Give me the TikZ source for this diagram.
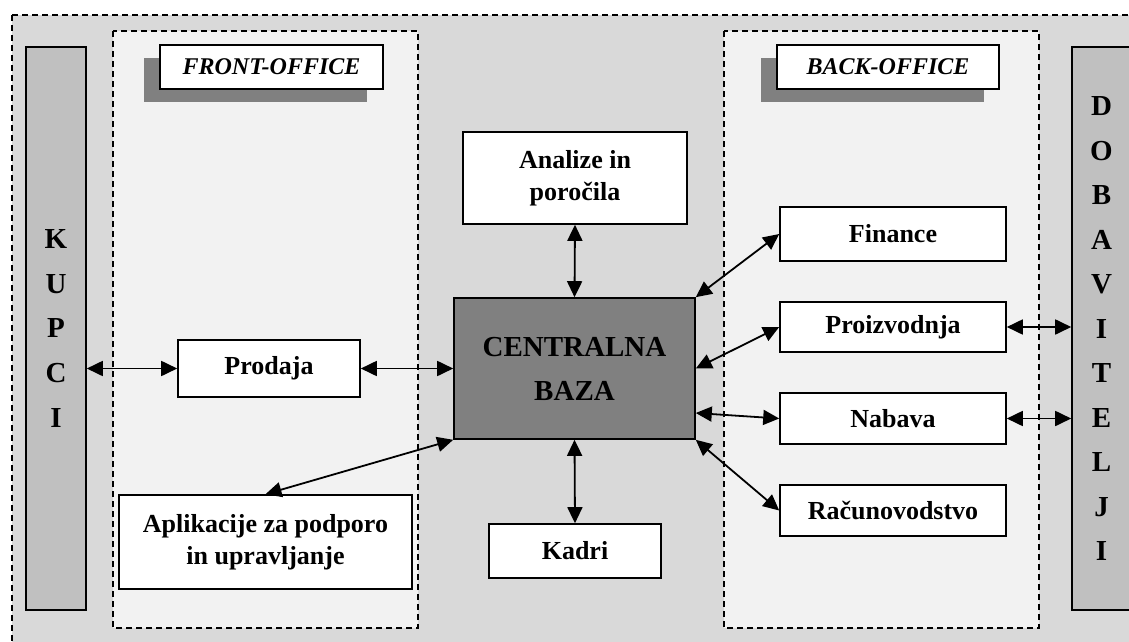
\documentclass[tikz,border=0pt]{standalone}
\usepackage{fontspec}
\setmainfont{Liberation Serif}
\usetikzlibrary{arrows.meta}
\definecolor{outerfill}{HTML}{D9D9D9}
\definecolor{zonefill}{HTML}{F2F2F2}
\definecolor{barfill}{HTML}{C0C0C0}
\definecolor{darkfill}{HTML}{808080}
\begin{document}
\begin{tikzpicture}[x=1pt,y=-1pt,
  box/.style={draw=black, line width=1.6pt, fill=white, align=center, inner sep=0pt,
    font=\fontsize{26}{32}\selectfont\bfseries},
  central/.style={box, fill=darkfill, font=\fontsize{29}{44}\selectfont\bfseries},
  bar/.style={draw=black, line width=1.6pt, fill=barfill, align=center, inner sep=0pt,
    font=\fontsize{29}{44.5}\selectfont\bfseries},
  tag/.style={draw=black, line width=1.6pt, fill=white, inner sep=0pt,
    font=\fontsize{24}{28}\selectfont\bfseries\itshape},
  shadow/.style={fill=darkfill, draw=none},
  zone/.style={draw=black, line width=1.2pt, dash pattern=on 6pt off 4pt},
  link/.style={line width=1.8pt, {Triangle[length=16pt,width=15pt]}-{Triangle[length=16pt,width=15pt]}}
]
\useasboundingbox (0,0) rectangle (1129,642);
\clip (0,0) rectangle (1129,642);
% background zones
\filldraw[zone, fill=outerfill] (12,15) rectangle (1140,660);
\filldraw[zone, fill=zonefill] (113,31) rectangle (418,628);
\filldraw[zone, fill=zonefill] (724,31) rectangle (1039,628);
% side bars
\node[bar, minimum width=60pt, minimum height=563pt] (kupci) at (56,328.5) {K\\U\\P\\C\\I};
\node[bar, minimum width=59pt, minimum height=563pt] (dobav) at (1101.5,328.5) {D\\O\\B\\A\\V\\I\\T\\E\\L\\J\\I};
% office tags
\fill[shadow] (144,58) rectangle (367,102);
\node[tag, minimum width=223pt, minimum height=44pt] (front) at (271.5,67) {FRONT-OFFICE};
\fill[shadow] (761,58) rectangle (984,102);
\node[tag, minimum width=222pt, minimum height=44pt] (back) at (888,67) {BACK-OFFICE};
% boxes
\node[central, minimum width=241pt, minimum height=141pt] (central) at (574.5,368.5) {CENTRALNA\\BAZA};
\node[box, minimum width=224pt, minimum height=92pt] (analize) at (575,178) {Analize in\\poročila};
\node[box, minimum width=172pt, minimum height=54pt] (kadri) at (575,551) {Kadri};
\node[box, minimum width=182pt, minimum height=57pt] (prodaja) at (269,368.5) {Prodaja};
\node[box, minimum width=293pt, minimum height=94pt] (aplik) at (265.5,542) {Aplikacije za podporo\\in upravljanje};
\node[box, minimum width=226pt, minimum height=54pt] (finance) at (893,234) {Finance};
\node[box, minimum width=226pt, minimum height=50pt] (proizv) at (893,327) {Proizvodnja};
\node[box, minimum width=226pt, minimum height=51pt] (nabava) at (893,418.5) {Nabava};
\node[box, minimum width=226pt, minimum height=51pt] (racun) at (893,510.5) {Računovodstvo};
% connectors
\draw[link] (kupci.east |- prodaja.west) -- (prodaja.west);
\draw[link] (prodaja.east) -- (central.west |- prodaja.east);
\draw[link] (central.north) -- (analize.south);
\draw[link] (central.south) -- (kadri.north);
\draw[link] (central.south west) -- (aplik.north);
\draw[link] (central.north east) -- (finance.west);
\draw[link] (central.east) -- (proizv.west);
\draw[link] ([yshift=-44.5pt]central.east) -- (nabava.west);
\draw[link] (central.south east) -- (racun.west);
\draw[link] (proizv.east) -- (dobav.west |- proizv.east);
\draw[link] (nabava.east) -- (dobav.west |- nabava.east);
\end{tikzpicture}
\end{document}
